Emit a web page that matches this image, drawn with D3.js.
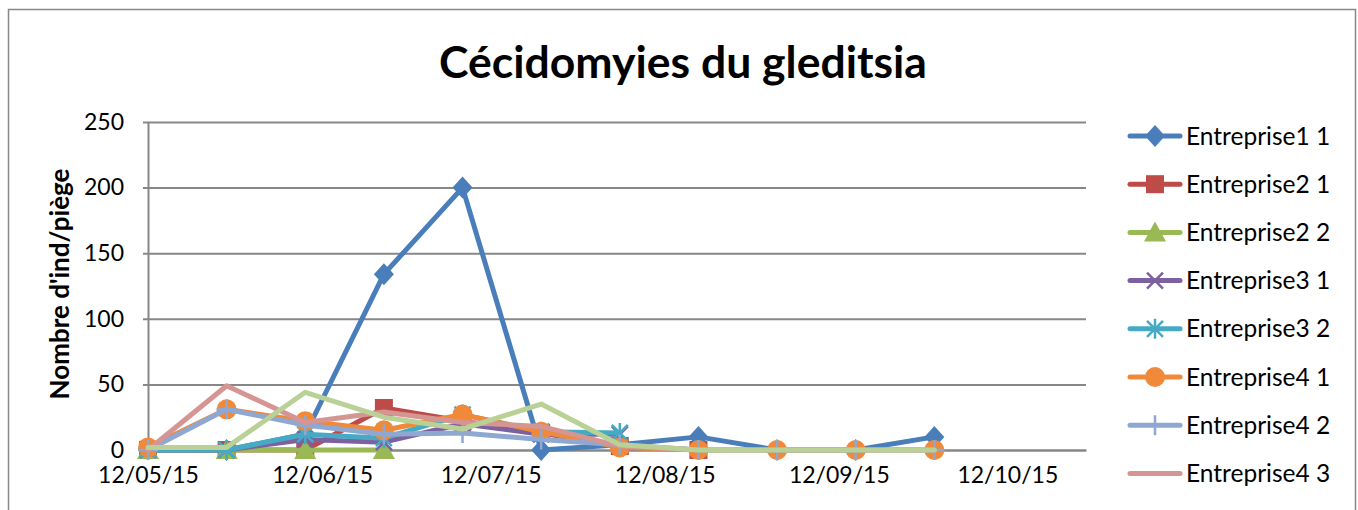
<!DOCTYPE html>
<html>
<head>
<meta charset="utf-8">
<script src="https://cdn.jsdelivr.net/npm/d3@7"></script>
<style>
  html, body { margin: 0; padding: 0; background: #fff; }
  svg { display: block; font-family: Lato, "Open Sans", "Liberation Sans", sans-serif; }
</style>
</head>
<body>
<svg id="chart" width="1358" height="510"></svg>
<script>
// ---- data ----
const title = "Cécidomyies du gleditsia";
const yAxisTitle = "Nombre d'ind/piège";
const dates = ["2015-05-12","2015-05-26","2015-06-09","2015-06-23","2015-07-07","2015-07-21","2015-08-04","2015-08-18","2015-09-01","2015-09-15","2015-09-29"];
const xTickLabels = ["12/05/15","12/06/15","12/07/15","12/08/15","12/09/15","12/10/15"];
const xTickDates = ["2015-05-12","2015-06-12","2015-07-12","2015-08-12","2015-09-12","2015-10-12"];
const xDomain = ["2015-05-12","2015-10-26"];
const yTicks = [0, 50, 100, 150, 200, 250];
const seriesNames = ["Entreprise1 1","Entreprise2 1","Entreprise2 2","Entreprise3 1","Entreprise3 2","Entreprise4 1","Entreprise4 2","Entreprise4 3","Entreprise4 4"];
const e1_1 = [1, 0, 12, 134, 200, 0, 4, 10, 0, 0, 10];
const e2_1 = [0, 0, 0, 32, 22, 13, 3, 0];
const e2_2 = [0, 0, 0, 0];
const e3_1 = [0, 0, 8, 6, 20, 12, 12];
const e3_2 = [0, 0, 12, 9, 27, 14, 13];
const e4_1 = [2, 31, 22, 15, 27, 14, 2, 0, 0, 0, 0];
const e4_2 = [0, 31, 19, 12, 13, 8, 4, 0, 0, 0, 0];
const e4_3 = [0, 49, 21, 29, 21, 18, 3, 0];
const e4_4 = [2, 2, 44, 25, 16, 35, 4, 0, 0, 0, 0];
const seriesValues = [e1_1, e2_1, e2_2, e3_1, e3_2, e4_1, e4_2, e4_3, e4_4];
const colors = ["#4A7EBB","#BE4B48","#98B954","#7D60A0","#46AAC5","#F0893A","#8EA8D2","#D59593","#B9D196"];
const markers = ["diamond","square","triangle","x","star","circle","plus","none","none"];
const legendCount = 8; // 9th entry is cut off in the original

// ---- layout ----
const svg = d3.select("#chart");
const plot = {left: 148, right: 1086, top: 122, bottom: 450};
const parse = d3.timeParse("%Y-%m-%d");
const x = d3.scaleTime().domain(xDomain.map(parse)).range([plot.left, plot.right]);
const y = d3.scaleLinear().domain([0, 250]).range([plot.bottom, plot.top]);
const grid = "#878787";

// chart border
svg.append("rect").attr("x", 8.5).attr("y", 9.5).attr("width", 1347).attr("height", 530)
  .attr("fill", "none").attr("stroke", grid).attr("stroke-width", 1.5);

// title
svg.append("text").attr("x", 683).attr("y", 78).attr("text-anchor", "middle")
  .attr("font-size", 44.5).attr("font-weight", "bold").attr("fill", "#000").text(title);

// y gridlines + axis
const yAxis = d3.axisLeft(y).tickValues(yTicks).tickSize(-(plot.right - plot.left)).tickSizeOuter(0).tickPadding(24);
const gy = svg.append("g").attr("transform", `translate(${plot.left},0)`).call(yAxis);
gy.select(".domain").attr("stroke", grid).attr("stroke-width", 2);
gy.selectAll(".tick line").attr("stroke", grid).attr("stroke-width", 2).attr("x1", -5);
gy.selectAll(".tick text").attr("font-size", 23).attr("fill", "#000").attr("font-family", "Lato, sans-serif");

// x axis
const xAxis = d3.axisBottom(x).tickValues(xTickDates.map(parse)).tickFormat((d, i) => xTickLabels[i]).tickSize(0).tickSizeOuter(0).tickPadding(17);
const gx = svg.append("g").attr("transform", `translate(0,${plot.bottom})`).call(xAxis);
gx.select(".domain").attr("stroke", grid).attr("stroke-width", 2);
gx.selectAll(".tick text").attr("font-size", 23).attr("fill", "#000").attr("font-family", "Lato, sans-serif");

// y axis title
svg.append("text").attr("transform", `translate(69,284) rotate(-90)`).attr("text-anchor", "middle")
  .attr("font-size", 26).attr("font-weight", "bold").attr("fill", "#000").text(yAxisTitle);

// marker drawing
function drawMarker(g, type, color, cx, cy) {
  const r = 10;
  if (type === "diamond") {
    g.append("path").attr("d", `M${cx},${cy - r - 1}L${cx + r},${cy}L${cx},${cy + r + 1}L${cx - r},${cy}Z`).attr("fill", color);
  } else if (type === "square") {
    g.append("rect").attr("x", cx - 9).attr("y", cy - 9).attr("width", 18).attr("height", 18).attr("fill", color);
  } else if (type === "triangle") {
    g.append("path").attr("d", `M${cx},${cy - 11}L${cx + 11},${cy + 9}L${cx - 11},${cy + 9}Z`).attr("fill", color);
  } else if (type === "x") {
    g.append("path").attr("d", `M${cx - 8},${cy - 8}L${cx + 8},${cy + 8}M${cx - 8},${cy + 8}L${cx + 8},${cy - 8}`)
      .attr("stroke", color).attr("stroke-width", 2.5).attr("fill", "none");
  } else if (type === "star") {
    g.append("path").attr("d", `M${cx - 8},${cy - 8}L${cx + 8},${cy + 8}M${cx - 8},${cy + 8}L${cx + 8},${cy - 8}M${cx},${cy - 10}L${cx},${cy + 10}`)
      .attr("stroke", color).attr("stroke-width", 2.5).attr("fill", "none");
  } else if (type === "circle") {
    g.append("circle").attr("cx", cx).attr("cy", cy).attr("r", r).attr("fill", color);
  } else if (type === "plus") {
    g.append("path").attr("d", `M${cx},${cy - 10}L${cx},${cy + 10}M${cx - 10},${cy}L${cx + 10},${cy}`)
      .attr("stroke", color).attr("stroke-width", 2.5).attr("fill", "none");
  }
}

// series
const line = d3.line().x(d => x(d.date)).y(d => y(d.value));
seriesValues.forEach((vals, si) => {
  const pts = vals.map((v, i) => ({date: parse(dates[i]), value: v}));
  const g = svg.append("g").attr("class", "series");
  g.append("path").datum(pts).attr("d", line).attr("fill", "none")
    .attr("stroke", colors[si]).attr("stroke-width", 5).attr("stroke-linejoin", "round").attr("stroke-linecap", "round");
  pts.forEach(p => drawMarker(g, markers[si], colors[si], x(p.date), y(p.value)));
});

// legend
const lg = svg.append("g");
seriesNames.slice(0, legendCount).forEach((name, i) => {
  const ly = 136 + i * 48.2;
  lg.append("line").attr("x1", 1130).attr("x2", 1180).attr("y1", ly).attr("y2", ly)
    .attr("stroke", colors[i]).attr("stroke-width", 5).attr("stroke-linecap", "round");
  drawMarker(lg, markers[i], colors[i], 1155, ly);
  lg.append("text").attr("x", 1186).attr("y", ly).attr("dy", "0.35em")
    .attr("font-size", 24.5).attr("fill", "#000").text(name);
});
</script>
</body>
</html>
